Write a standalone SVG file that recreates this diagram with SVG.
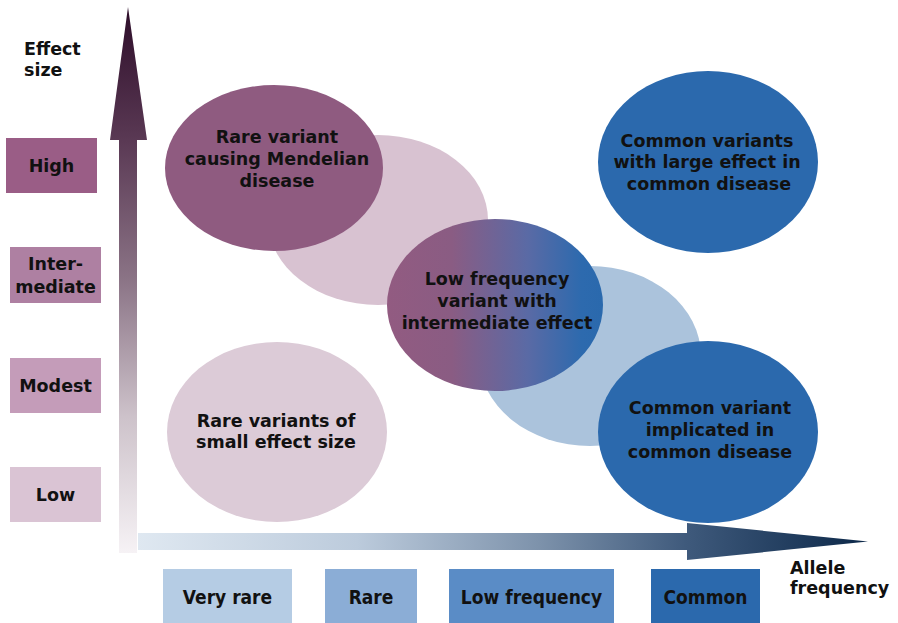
<svg xmlns="http://www.w3.org/2000/svg" width="898" height="623" viewBox="0 0 898 623">
<defs>
<style>
text{font-family:"DejaVu Sans","Liberation Sans",sans-serif;font-weight:bold;font-size:17.5px;fill:#111;text-anchor:middle}
.cond{font-family:"DejaVu Sans Condensed","DejaVu Sans","Liberation Sans",sans-serif;font-size:19px}
.lft{text-anchor:start}
</style>
<linearGradient id="gv" gradientUnits="userSpaceOnUse" x1="0" y1="7" x2="0" y2="553">
<stop offset="0" stop-color="#2d0d29"/>
<stop offset="0.25" stop-color="#5b3a55"/>
<stop offset="0.5" stop-color="#8b7486"/>
<stop offset="0.75" stop-color="#cdc2ca"/>
<stop offset="1" stop-color="#f6f2f5"/>
</linearGradient>
<linearGradient id="gh" gradientUnits="userSpaceOnUse" x1="138" y1="0" x2="868" y2="0">
<stop offset="0" stop-color="#dfe8f1"/>
<stop offset="0.3" stop-color="#bccbdc"/>
<stop offset="0.55" stop-color="#7d92ab"/>
<stop offset="0.75" stop-color="#3f5a7c"/>
<stop offset="1" stop-color="#0c2849"/>
</linearGradient>
<linearGradient id="gmid" x1="0" y1="0" x2="1" y2="0">
<stop offset="0" stop-color="#925b81"/>
<stop offset="0.3" stop-color="#8a5c83"/>
<stop offset="0.65" stop-color="#5a6aa5"/>
<stop offset="0.9" stop-color="#2d6aae"/>
<stop offset="1" stop-color="#2a69ad"/>
</linearGradient>
</defs>
<rect width="898" height="623" fill="#fff"/>

<g id="axes">
<polygon points="128,7 147,140 137,140 137,553 119,553 119,140 110,140" fill="url(#gv)"/>
<polygon points="138,533 687,533 687,523 868,541.5 687,560 687,550 138,550" fill="url(#gh)"/>
</g>

<g id="axis-y-title"><text class="lft" x="24" y="55">Effect</text><text class="lft" x="24" y="76">size</text></g>
<g id="axis-x-title"><text class="lft" x="790" y="574">Allele</text><text class="lft" x="790" y="594">frequency</text></g>

<g id="y-high"><rect x="6" y="138" width="91" height="55" fill="#9a5d86"/><text x="51.5" y="172">High</text></g>
<g id="y-intermediate"><rect x="10" y="247" width="91" height="56" fill="#ae80a2"/><text x="55.5" y="270">Inter-</text><text x="55.5" y="293">mediate</text></g>
<g id="y-modest"><rect x="10" y="358" width="91" height="55" fill="#c49cb9"/><text x="55.5" y="392">Modest</text></g>
<g id="y-low"><rect x="10" y="467" width="91" height="55" fill="#dac4d4"/><text x="55.5" y="501">Low</text></g>

<g id="x-very-rare"><rect x="163" y="569" width="129" height="60" fill="#b5cce4"/><text class="cond" x="227.5" y="604">Very rare</text></g>
<g id="x-rare"><rect x="325" y="569" width="92" height="60" fill="#8badd6"/><text class="cond" x="371" y="604">Rare</text></g>
<g id="x-low-frequency"><rect x="449" y="569" width="165" height="60" fill="#5a8cc6"/><text class="cond" x="531.5" y="604">Low frequency</text></g>
<g id="x-common"><rect x="651" y="569" width="109" height="60" fill="#2b69ad"/><text class="cond" x="705.5" y="604">Common</text></g>

<g id="bg-pink"><ellipse cx="378" cy="220" rx="110" ry="85" fill="#d8c2d1"/></g>
<g id="bg-blue"><ellipse cx="590" cy="356" rx="111" ry="90" fill="#abc3dc"/></g>

<g id="mendelian"><ellipse cx="274" cy="168" rx="109" ry="83" fill="#8f5b80"/>
<text x="277" y="143">Rare variant</text><text x="277" y="165">causing Mendelian</text><text x="277" y="187">disease</text></g>

<g id="low-frequency-intermediate"><ellipse cx="495" cy="305" rx="108" ry="86" fill="url(#gmid)"/>
<text x="497" y="285">Low frequency</text><text x="497" y="307">variant with</text><text x="497" y="329">intermediate effect</text></g>

<g id="common-implicated"><ellipse cx="708" cy="432" rx="110" ry="91" fill="#2b69ad"/>
<text x="710" y="414">Common variant</text><text x="710" y="436">implicated in</text><text x="710" y="458">common disease</text></g>

<g id="common-large"><ellipse cx="708" cy="162" rx="110" ry="91" fill="#2b69ad"/>
<text x="707" y="147">Common variants</text><text x="707" y="168">with large effect in</text><text x="709" y="190">common disease</text></g>

<g id="rare-small"><ellipse cx="277" cy="432" rx="110" ry="90" fill="#dccbd7"/>
<text x="276" y="427">Rare variants of</text><text x="276" y="448">small effect size</text></g>
</svg>
